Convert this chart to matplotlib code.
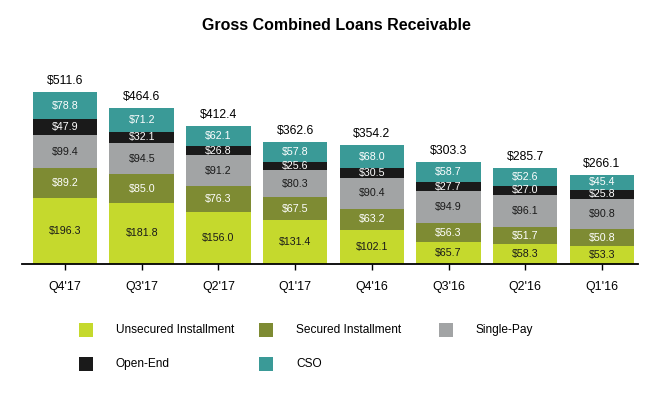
import numpy as np
import matplotlib.pyplot as plt
from matplotlib.patches import Rectangle

plt.rcParams['font.family'] = ['Liberation Sans', 'DejaVu Sans']

quarters = ["Q4'17", "Q3'17", "Q2'17", "Q1'17", "Q4'16", "Q3'16", "Q2'16", "Q1'16"]
series = ["Unsecured Installment", "Secured Installment", "Single-Pay", "Open-End", "CSO"]
unsecured = [196.3, 181.8, 156.0, 131.4, 102.1, 65.7, 58.3, 53.3]
secured = [89.2, 85.0, 76.3, 67.5, 63.2, 56.3, 51.7, 50.8]
single_pay = [99.4, 94.5, 91.2, 80.3, 90.4, 94.9, 96.1, 90.8]
open_end = [47.9, 32.1, 26.8, 25.6, 30.5, 27.7, 27.0, 25.8]
cso = [78.8, 71.2, 62.1, 57.8, 68.0, 58.7, 52.6, 45.4]
totals = [511.6, 464.6, 412.4, 362.6, 354.2, 303.3, 285.7, 266.1]

colors = ['#C5D92D', '#7E8B33', '#A2A4A5', '#1A1A1A', '#3A9A97']
text_colors = ['#1a1a1a', 'white', '#1a1a1a', 'white', 'white']

W, H = 672, 400
fig = plt.figure(figsize=(W / 100, H / 100), dpi=100)
# axes placed in pixel terms: baseline y=264, 0.3356 px per unit
ymax = 560
ax_h = ymax * 0.3356
ax = fig.add_axes([22 / W, (H - 264) / H, (638 - 22) / W, ax_h / H])

x = np.arange(len(quarters))
bottom = np.zeros(len(quarters))
for vals, col, tcol in zip([unsecured, secured, single_pay, open_end, cso], colors, text_colors):
    vals = np.array(vals)
    ax.bar(x, vals, 0.84, bottom=bottom, color=col, edgecolor='none')
    for xi, b, v in zip(x, bottom, vals):
        ax.text(xi, b + v / 2, f'${v:.1f}', ha='center', va='center',
                fontsize=7.7, color=tcol)
    bottom += vals

for xi, t, b in zip(x, totals, bottom):
    ax.annotate(f'${t:.1f}', (xi, b), xytext=(0, 3.5), textcoords='offset points',
                ha='center', va='bottom', fontsize=8.8, color='black')

ax.set_xlim(-0.56, 7.47)
ax.set_ylim(0, ymax)
ax.set_xticks(x)
ax.set_xticklabels(quarters, fontsize=8.9)
ax.set_yticks([])
for s in ['top', 'right', 'left']:
    ax.spines[s].set_visible(False)
ax.spines['bottom'].set_linewidth(1.3)
ax.tick_params(axis='x', direction='out', length=4, width=1, pad=8)

fig.text(0.5, 1 - 25 / H, 'Gross Combined Loans Receivable', ha='center', va='center',
         fontsize=11.5, fontweight='bold')

# manual legend key, three per row
for i, (name, col) in enumerate(zip(series, colors)):
    row, c = divmod(i, 3)
    sx = 79 + c * 180
    sy = 330 + row * 34
    fig.add_artist(Rectangle(((sx) / W, (H - sy - 7) / H), 14 / W, 14 / H,
                             transform=fig.transFigure, color=col, lw=0))
    fig.text((sx + 37) / W, (H - sy) / H, name, ha='left', va='center', fontsize=8.6)

fig.savefig('out.png', dpi=100)
